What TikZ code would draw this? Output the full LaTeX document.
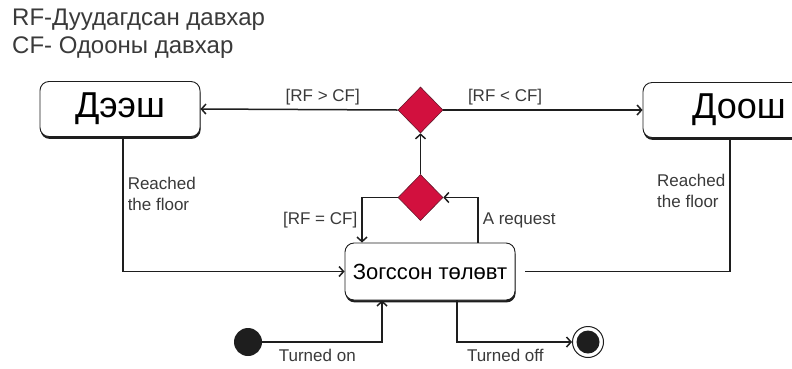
\documentclass[tikz,border=0pt]{standalone}
\usepackage{fontspec}
\setmainfont{Liberation Sans}
\usetikzlibrary{arrows.meta,positioning,shapes.geometric,shadows}
\definecolor{stink}{HTML}{1E1E1E}
\definecolor{stred}{HTML}{D2103E}
\definecolor{stgray}{HTML}{3A3A3A}

\begin{document}
\begin{tikzpicture}[x=1pt,y=-1pt,
  state/.style={rounded corners=9pt,draw=stink,fill=white,line width=0.9pt,
                drop shadow={shadow xshift=0.6pt,shadow yshift=-2.4pt,fill=stink,opacity=1},
                minimum height=55pt,inner sep=0pt},
  choice/.style={diamond,draw=stink!60!stred,fill=stred,line width=0.6pt,
                 minimum width=45pt,minimum height=46pt,inner sep=0pt},
  arr/.style={-{Straight Barb[length=4.5pt,width=10pt]},line width=1.5pt,color=stink},
  link/.style={line width=1.5pt,color=stink},
  lbl/.style={font=\fontsize{17}{21}\selectfont,text=stgray,inner sep=4pt},
  initst/.style={circle,fill=stink,minimum size=28pt,inner sep=0pt},
  finst/.style={circle,draw=stink,line width=1pt,minimum size=31pt,inner sep=0pt,
                path picture={\fill[stink] (path picture bounding box.center) circle (11.5pt);}}
]
\clip (0,0) rectangle (792,368);
\fill[white] (0,0) rectangle (792,368);

% legend
\node[anchor=north west,align=left,text=stgray,inner sep=0pt,
      font=\fontsize{24}{28}\selectfont] (legend) at (12,9)
  {RF-Дуудагдсан давхар\\CF- Одооны давхар};

% states
\node[state,minimum width=160pt,font=\fontsize{36}{40}\selectfont] (up) at (120,109) {Дээш};
\node[state,minimum width=192pt,font=\fontsize{36}{40}\selectfont] (down) at (739,110) {Доош};
\node[state,minimum width=170pt,minimum height=57pt,font=\fontsize{22}{26}\selectfont] (idle) at (430,271.5) {Зогссон төлөвт};

% choice points
\node[choice] (dsel) at (420.5,110) {};
\node[choice] (dreq) at (420.5,197.5) {};

% start and end
\node[initst] (init) at (248,342) {};
\node[finst] (fin) at (588,342) {};

% transitions
\draw[arr] (dsel.west) -- node[lbl,pos=0.38,above] {[RF > CF]} (up.east);
\draw[arr] (dsel.east) -- node[lbl,pos=0.31,above] {[RF < CF]} (down.west);
\draw[arr] (dreq.north) -- (dsel.south);
\draw[arr] ([xshift=48]idle.north) |- node[lbl,pos=0.25,anchor=west] {A request} (dreq.east);
\draw[arr] (dreq.west) -| node[lbl,pos=0.75,anchor=east] {[RF = CF]} ([xshift=-68]idle.north);
\draw[arr] ([xshift=3]up.south) |- node[lbl,pos=0.21,anchor=west,align=left] {Reached\\the floor} (idle.west);
\draw[link,shorten >=10pt] ([xshift=-9]down.south) |- node[lbl,pos=0.2,anchor=east,align=left] {Reached\\the floor} (idle.east);
\draw[arr] (init) -| node[lbl,pos=0.23,below,yshift=-2pt] {Turned on} ([xshift=-48]idle.south);
\draw[arr] ([xshift=27]idle.south) |- node[lbl,pos=0.71,below,yshift=-2pt] {Turned off} (fin);
\end{tikzpicture}
\end{document}
